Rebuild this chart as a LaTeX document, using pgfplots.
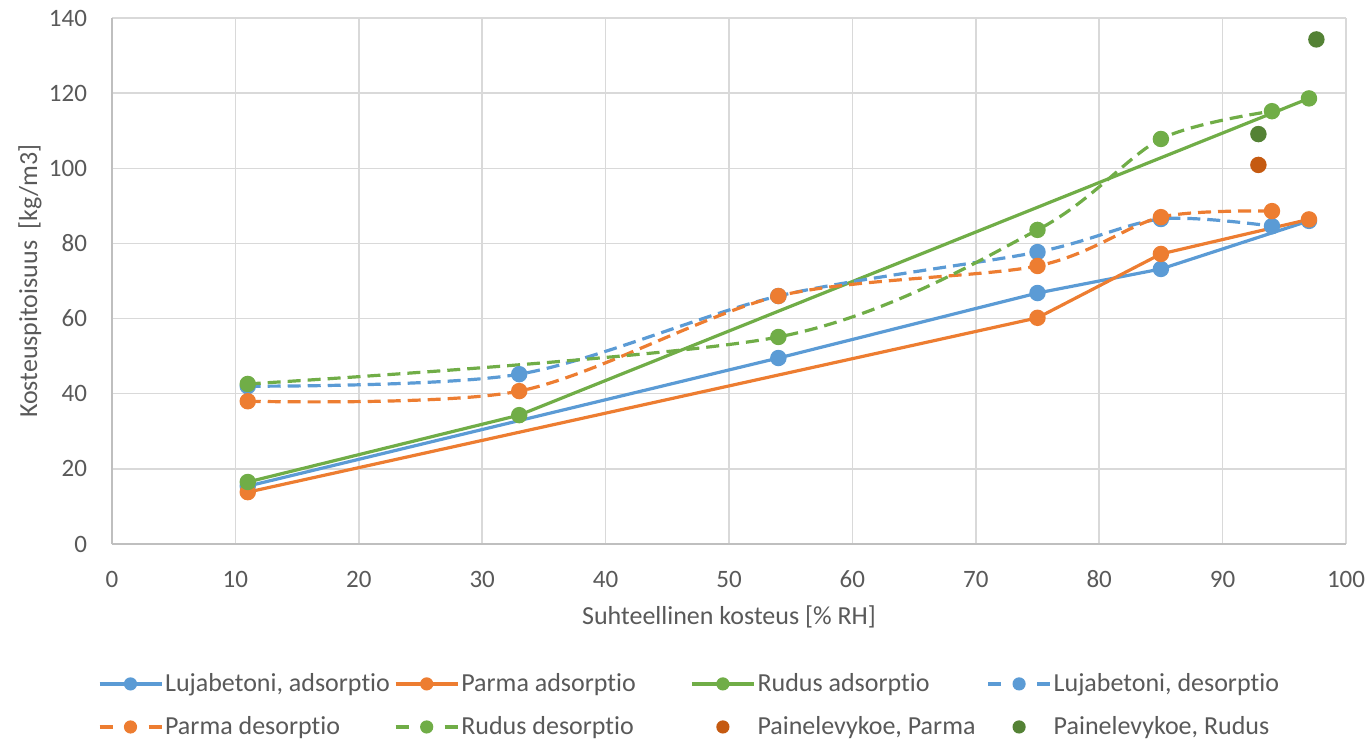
\documentclass[border=0pt]{standalone}
\usepackage{fontspec}
\setmainfont{Carlito}[Ligatures={NoCommon}]
\usepackage{pgfplots}
\pgfplotsset{compat=1.18}
\definecolor{cblue}{HTML}{5B9BD5}
\definecolor{corange}{HTML}{ED7D31}
\definecolor{cgreen}{HTML}{70AD47}
\definecolor{cdorange}{HTML}{C55A11}
\definecolor{cdgreen}{HTML}{548235}
\definecolor{cgrid}{HTML}{D9D9D9}
\definecolor{caxis}{HTML}{BFBFBF}
\definecolor{ctext}{HTML}{595959}
\pgfplotsset{
  solidleg/.style={legend image code/.code={
    \draw[line width=1.6pt,solid] (0pt,0pt) -- (31pt,0pt);
    \fill[draw=none] (15.5pt,0pt) circle (3.3pt);}},
  dashleg/.style={legend image code/.code={
    \path[draw=none] (0pt,0pt) -- (31pt,0pt);
    \draw[line width=1.6pt,solid] (0pt,0pt) -- (6.5pt,0pt);
    \draw[line width=1.6pt,solid] (24.5pt,0pt) -- (31pt,0pt);
    \fill[draw=none] (15.5pt,0pt) circle (3.3pt);}},
  markleg/.style={legend image code/.code={
    \path[draw=none] (0pt,0pt) -- (31pt,0pt);
    \fill[draw=none] (15.5pt,0pt) circle (3.3pt);}},
}
\newcommand{\lt}[1]{\makebox[113.5pt][l]{#1}}
\begin{document}
\begin{tikzpicture}
\useasboundingbox (0,0) rectangle (685pt,370pt);
\begin{axis}[
  at={(56pt,98pt)}, anchor=south west,
  scale only axis, width=617pt, height=263pt,
  xmin=0, xmax=100, ymin=0, ymax=140,
  xtick={0,10,...,100}, ytick={0,20,...,140},
  grid=major, major grid style={draw=cgrid, line width=0.75pt},
  axis lines*=left, axis line style={draw=caxis, line width=0.75pt, -},
  major tick length=0pt, tick style={draw=none},
  /pgf/number format/assume math mode=true,
  ticklabel style={font=\fontsize{12.5}{14}\selectfont, text=ctext},
  xticklabel style={anchor=center, yshift=-17.5pt},
  yticklabel style={anchor=east, xshift=-9pt},
  xlabel={Suhteellinen kosteus [\% RH]},
  ylabel={Kosteuspitoisuus\ \ [kg/m3]},
  label style={font=\fontsize{13}{15}\selectfont, text=ctext},
  xlabel style={at={([yshift=-36.5pt]axis description cs:0.5,0)}, anchor=center},
  ylabel style={at={([xshift=-41pt]axis description cs:0,0.5)}, anchor=center},
  legend columns=4,
  legend style={draw=none, fill=none, inner sep=0pt,
    at={(-0.01175,-0.2414)}, anchor=north west,
    font=\fontsize{13}{15}\selectfont, text=ctext,
    nodes={inner sep=1pt},
    row sep=9pt,
    /tikz/every even column/.append style={column sep=0pt}},
  legend cell align=left,
  every axis plot/.append style={line width=1.6pt, mark=*, mark size=3.3pt, mark options={solid}},
]
\addplot[cblue, solidleg] coordinates {(11,15.4) (54,49.5) (75,66.8) (85,73.2) (97,86)};
\addlegendentry{\lt{Lujabetoni, adsorptio}}
\addplot[corange, solidleg] coordinates {(11,13.8) (75,60.2) (85,77.2) (97,86.4)};
\addlegendentry{\lt{Parma adsorptio}}
\addplot[cgreen, solidleg] coordinates {(11,16.5) (33,34.3) (97,118.6)};
\addlegendentry{\lt{Rudus adsorptio}}
\addplot[cblue, dash pattern=on 6.5pt off 3.5pt, smooth, dashleg] coordinates {(11,42) (33,45.2) (54,66) (75,77.7) (85,86.5) (94,84.6)};
\addlegendentry{\lt{Lujabetoni, desorptio}}
\addplot[corange, dash pattern=on 6.5pt off 3.5pt, smooth, dashleg] coordinates {(11,38) (33,40.7) (54,66) (75,74) (85,87) (94,88.6)};
\addlegendentry{\lt{Parma desorptio}}
\addplot[cgreen, dash pattern=on 6.5pt off 3.5pt, smooth, dashleg] coordinates {(11,42.6) (54,55.1) (75,83.6) (85,107.8) (94,115.2)};
\addlegendentry{\lt{Rudus desorptio}}
\addplot[cdorange, only marks, markleg] coordinates {(92.9,100.9)};
\addlegendentry{\lt{Painelevykoe, Parma}}
\addplot[cdgreen, only marks, markleg] coordinates {(92.9,109.1) (97.6,134.3)};
\addlegendentry{\lt{Painelevykoe, Rudus}}
\end{axis}
\end{tikzpicture}
\end{document}
